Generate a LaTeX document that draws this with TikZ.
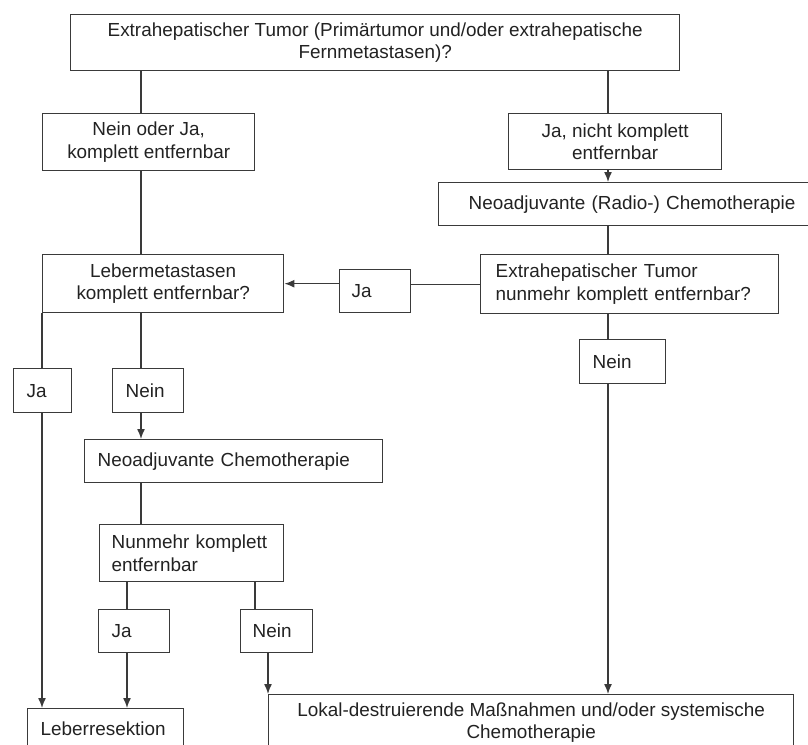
\documentclass[tikz,border=0pt]{standalone}
\usepackage{fontspec}
\setmainfont{Liberation Sans}
\usetikzlibrary{arrows.meta}

\definecolor{linegray}{HTML}{3A3A3A}
\definecolor{textgray}{HTML}{222222}

\tikzset{
    box/.style={draw=linegray, line width=1.4pt, text=textgray, inner ysep=0pt, anchor=north west},
    cbox/.style={box, align=center, inner xsep=0pt},
    lbox/.style={box, align=left, inner xsep=#1},
    link/.style={draw=linegray, line width=1.4pt},
    arr/.style={link, -{Latex[length=10pt,width=8pt]}}
}

\begin{document}
\begin{tikzpicture}[x=1pt, y=-1pt, font=\fontsize{18.9}{22.5}\selectfont]
        \useasboundingbox (0,0) rectangle (808,744);

        % spines
        \coordinate (xa) at (141,0);
        \coordinate (xb) at (608,0);
        \coordinate (xc) at (42,0);
        \coordinate (xd) at (127,0);
        \coordinate (xe) at (255,0);
        \coordinate (xf) at (268,0);

        % boxes
        \node[cbox, minimum width=609, minimum height=56] (top) at (70,14)
            {Extrahepatischer Tumor (Primärtumor und/oder extrahepatische\\Fernmetastasen)?};
        \node[cbox, minimum width=212, minimum height=57] (noj) at (42,113)
            {Nein oder Ja,\\komplett entfernbar};
        \node[cbox, minimum width=213, minimum height=56] (janicht) at (508,113)
            {Ja, nicht komplett\\entfernbar};
        \node[lbox=30, text width=380, minimum height=43] (radio) at (438,182)
            {Neoadjuvante (Radio-) Chemotherapie};
        \node[lbox=15, text width=268, minimum height=59] (nunmehr) at (480,254)
            {Extrahepatischer Tumor\\nunmehr komplett entfernbar?};
        \node[lbox=12, text width=47, minimum height=43] (jaquer) at (339,269) {Ja};
        \node[cbox, minimum width=241, minimum height=58] (leber) at (42,254)
            {Lebermetastasen\\komplett entfernbar?};
        \node[lbox=13, text width=32, minimum height=44] (jalinks) at (13,368) {Ja};
        \node[lbox=13, text width=45, minimum height=44] (neinlinks) at (112,368) {Nein};
        \node[lbox=13, text width=272, minimum height=43] (chemo) at (84,439)
            {Neoadjuvante Chemotherapie};
        \node[lbox=12, text width=160, minimum height=57] (nunmehrz) at (99,524)
            {Nunmehr komplett\\entfernbar};
        \node[lbox=13, text width=45, minimum height=43] (jaunten) at (98,609) {Ja};
        \node[lbox=12, text width=48, minimum height=43] (neinunten) at (240,609) {Nein};
        \node[lbox=13, text width=60, minimum height=44] (neinrechts) at (579,339) {Nein};
        \node[lbox=13, text width=130, minimum height=40] (resektion) at (27,708)
            {Leberresektion};
        \node[cbox, minimum width=525, minimum height=56] (lokal) at (268,694)
            {Lokal-destruierende Maßnahmen und/oder systemische\\Chemotherapie};

        % left branch
        \draw[link] (top.south -| xa) -- (noj.north -| xa);
        \draw[link] (noj.south -| xa) -- (leber.north -| xa);
        \draw[link] (leber.south -| xc) -- (jalinks.north -| xc);
        \draw[arr] (jalinks.south -| xc) -- (resektion.north -| xc);
        \draw[link] (leber.south -| xa) -- (neinlinks.north -| xa);
        \draw[arr] (neinlinks.south -| xa) -- (chemo.north -| xa);
        \draw[link] (chemo.south -| xa) -- (nunmehrz.north -| xa);
        \draw[link] (nunmehrz.south -| xd) -- (jaunten.north -| xd);
        \draw[arr] (jaunten.south -| xd) -- (resektion.north -| xd);
        \draw[link] (nunmehrz.south -| xe) -- (neinunten.north -| xe);
        \draw[arr] (neinunten.south -| xf) -- (lokal.north west);

        % right branch
        \draw[link] (top.south -| xb) -- (janicht.north -| xb);
        \draw[arr] (janicht.south -| xb) -- (radio.north -| xb);
        \draw[link] (radio.south -| xb) -- (nunmehr.north -| xb);
        \draw[link] (nunmehr.west) -- (jaquer.east |- nunmehr.west);
        \draw[arr] (jaquer.west |- leber.east) -- (leber.east);
        \draw[link] (nunmehr.south -| xb) -- (neinrechts.north -| xb);
        \draw[arr] (neinrechts.south -| xb) -- (lokal.north -| xb);
    \end{tikzpicture}
\end{document}
